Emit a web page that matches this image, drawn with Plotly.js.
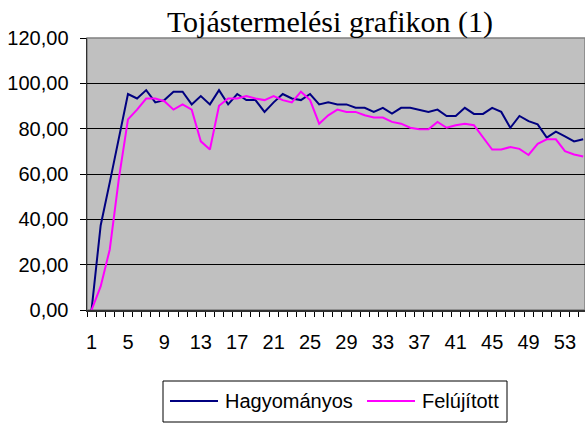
<!DOCTYPE html>
<html>
<head>
<meta charset="utf-8">
<script src="https://cdn.plot.ly/plotly-3.0.1.min.js"></script>
<style>
html,body{margin:0;padding:0;background:#fff;}
#chart{width:585px;height:423px;}
</style>
</head>
<body>
<div id="chart"></div>
<script>
var napok = [1,2,3,4,5,6,7,8,9,10,11,12,13,14,15,16,17,18,19,20,21,22,23,24,25,26,27,28,29,30,31,32,33,34,35,36,37,38,39,40,41,42,43,44,45,46,47,48,49,50,51,52,53,54,55];
var hagyomanyos = [0,37.3,56.3,76.3,95.3,93.3,97.0,91.6,92.6,96.3,96.3,90.7,94.4,90.7,97.0,90.7,95.3,92.6,92.6,87.4,91.6,95.3,93.3,92.6,95.3,90.7,91.6,90.7,90.7,89.2,89.2,87.4,89.2,86.7,89.2,89.2,88.4,87.4,88.4,85.6,85.6,89.2,86.5,86.5,89.2,87.4,80.4,85.6,83.3,81.9,76.1,78.7,76.6,74.4,75.3];
var felujitott = [0,10.4,26.7,58.0,84.1,88.4,93.3,93.3,92.1,88.4,90.7,88.4,74.4,70.8,90.1,93.3,93.3,94.4,93.3,92.6,94.4,92.6,91.6,96.3,92.6,82.2,85.9,88.4,87.4,87.4,85.9,84.9,84.9,83.0,82.2,80.4,79.7,79.7,83.0,80.4,81.5,82.2,81.5,76.3,70.8,70.8,71.9,71.1,68.4,73.3,75.3,75.3,70.1,68.6,67.7];
var xTickLabels = [1,5,9,13,17,21,25,29,33,37,41,45,49,53];
var yTickVals = [0,20,40,60,80,100,120];
var seriesNames = ['Hagyományos','Felújított'];
var seriesColors = ['#000080','#FF00FF'];
var chartTitle = 'Tojástermelési grafikon (1)';

var traces = [
  {x: napok, y: hagyomanyos, name: seriesNames[0], type: 'scatter', mode: 'lines',
   line: {color: seriesColors[0], width: 2}, showlegend: false},
  {x: napok, y: felujitott, name: seriesNames[1], type: 'scatter', mode: 'lines',
   line: {color: seriesColors[1], width: 2}, showlegend: false}
];

// plot area in pixels: left 87, width 498, top 38, bottom 310 (height 272)
function px(v){ return (v - 87) / 498; }
function py(v){ return (310 - v) / 272; }

var legendY = py(401);
var shapes = [
  {type: 'rect', xref: 'paper', yref: 'paper', x0: 0, x1: 1, y0: 0, y1: 1,
   line: {color: '#808080', width: 1.5}, fillcolor: 'rgba(0,0,0,0)', layer: 'below'},
  // legend box
  {type: 'rect', xref: 'paper', yref: 'paper', x0: px(163), x1: px(507), y0: py(422), y1: py(381),
   line: {color: '#000', width: 1}, fillcolor: '#fff'},
  {type: 'line', xref: 'paper', yref: 'paper', x0: px(170), x1: px(218), y0: legendY, y1: legendY,
   line: {color: seriesColors[0], width: 2}},
  {type: 'line', xref: 'paper', yref: 'paper', x0: px(367), x1: px(415), y0: legendY, y1: legendY,
   line: {color: seriesColors[1], width: 2}}
];

var annotations = [
  {xref: 'paper', yref: 'paper', x: px(223), y: legendY, xanchor: 'left', yanchor: 'middle',
   text: seriesNames[0], showarrow: false, font: {size: 20, color: '#000'}},
  {xref: 'paper', yref: 'paper', x: px(420), y: legendY, xanchor: 'left', yanchor: 'middle',
   text: seriesNames[1], showarrow: false, font: {size: 20, color: '#000'}}
];

var layout = {
  width: 585, height: 423,
  margin: {l: 87, r: 0, t: 38, b: 113},
  paper_bgcolor: '#ffffff',
  plot_bgcolor: '#C0C0C0',
  separators: ', ',
  font: {family: 'Liberation Sans, Arial, sans-serif', size: 20, color: '#000'},
  title: {
    text: chartTitle,
    font: {family: 'Liberation Serif, Times New Roman, serif', size: 30, color: '#000'},
    x: 0.564, xanchor: 'center', xref: 'container',
    y: 0.95, yanchor: 'middle', yref: 'container'
  },
  xaxis: {
    type: 'linear',
    range: [0.5, 55.2],
    tickmode: 'array',
    tickvals: xTickLabels,
    ticktext: xTickLabels.map(String),
    ticks: '',
    ticklabelstandoff: 13,
    showgrid: false,
    zeroline: false,
    showline: true, linecolor: '#303030', linewidth: 1.5,
    minor: {ticks: 'outside', tickmode: 'linear', tick0: 0.5, dtick: 1, ticklen: 5, tickcolor: '#000', tickwidth: 1, showgrid: false},
    tickfont: {size: 20},
    fixedrange: true
  },
  yaxis: {
    range: [0, 120],
    tickmode: 'array',
    tickvals: yTickVals,
    tickformat: '.2f',
    ticks: 'outside', ticklen: 6, tickcolor: '#000', tickwidth: 1,
    ticklabelstandoff: 7,
    showgrid: true, gridcolor: '#000', gridwidth: 1,
    zeroline: false,
    showline: true, linecolor: '#303030', linewidth: 1.5,
    tickfont: {size: 20},
    fixedrange: true
  },
  shapes: shapes,
  annotations: annotations,
  showlegend: false
};

Plotly.newPlot('chart', traces, layout, {displayModeBar: false, staticPlot: true});
</script>
</body>
</html>
